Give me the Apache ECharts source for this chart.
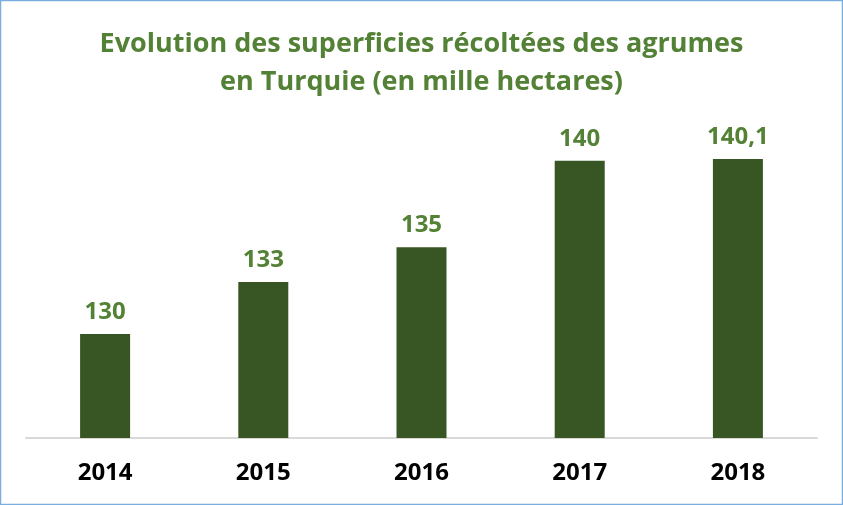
<!DOCTYPE html>
<html><head><meta charset="utf-8">
<script src="https://cdn.jsdelivr.net/npm/echarts@6/dist/echarts.min.js"></script>
<style>html,body{margin:0;padding:0;background:#fff;}#c{width:843px;height:505px;}</style>
</head><body><div id="c"></div>
<script>
var years = ['2014','2015','2016','2017','2018'];
var values = [130, 133, 135, 140, 140.1];
var valueLabels = ['130','133','135','140','140,1'];
var titleText = 'Evolution des superficies récoltées des agrumes\nen Turquie (en mille hectares)';

var chart = echarts.init(document.getElementById('c'));
chart.setOption({
  animation: false,
  backgroundColor: '#fff',
  title: {
    text: titleText, left: 'center', top: 20,
    textStyle: { fontFamily: 'Open Sans', fontWeight: 'bold', fontSize: 27, color: '#538135', lineHeight: 38 }
  },
  graphic: [{ type: 'rect', shape: { x: 0.5, y: 0.5, width: 842, height: 504 }, style: { fill: 'none', stroke: '#7aaee0', lineWidth: 1.5 }, silent: true }],
  grid: { left: 26, right: 26, top: 74, bottom: 67, containLabel: false },
  xAxis: {
    type: 'category', data: years,
    axisLine: { lineStyle: { color: '#d9d9d9', width: 2 } },
    axisTick: { show: false },
    axisLabel: { fontFamily: 'Open Sans', fontWeight: 'bold', fontSize: 24, color: '#000', margin: 23 }
  },
  yAxis: { type: 'value', min: 124, max: 145, show: false, splitLine: { show: false } },
  series: [{
    type: 'bar', data: values, barWidth: 50,
    itemStyle: { color: '#375623' },
    label: {
      show: true, position: 'top', distance: 10,
      fontFamily: 'Open Sans', fontWeight: 'bold', fontSize: 24, color: '#538135',
      formatter: function (p) { return valueLabels[p.dataIndex]; }
    }
  }]
});
</script></body></html>
